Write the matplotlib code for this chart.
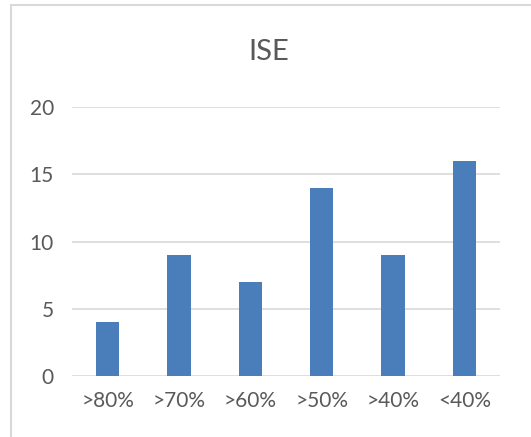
import numpy as np
import matplotlib.pyplot as plt
from matplotlib.patches import Rectangle

categories = ['>80%', '>70%', '>60%', '>50%', '>40%', '<40%']
values = [4, 9, 7, 14, 9, 16]
yticks = [0, 5, 10, 15, 20]

plt.rcParams['font.family'] = ['Lato', 'DejaVu Sans']

fig = plt.figure(figsize=(5.31, 4.37), dpi=100)
ax = fig.add_axes([0.1356, 0.1396, 0.806, 0.6155])

x = np.arange(len(categories))
ax.bar(x, values, width=0.33, color='#4a7ebb', zorder=3)

ax.set_xlim(-0.5, len(categories) - 0.5)
ax.set_ylim(0, 20)
ax.set_yticks(yticks)
ax.set_xticks(x)
ax.set_xticklabels(categories)
ax.grid(axis='y', color='#d9d9d9', linewidth=1.2, zorder=0)
for s in ax.spines.values():
    s.set_visible(False)
ax.tick_params(length=0, labelsize=15, labelcolor='#595959')
ax.tick_params(axis='x', pad=11)
ax.tick_params(axis='y', pad=13)

fig.text(0.507, 0.881, 'ISE', ha='center', va='center', fontsize=21, color='#595959')

# chart frame
fig.patches.append(Rectangle((11 / 531, -0.1), 1.2, 1 - 5 / 437 + 0.1,
                             transform=fig.transFigure, fill=False,
                             edgecolor='#d9d9d9', linewidth=1.5))

plt.savefig('out.png', dpi=100)
